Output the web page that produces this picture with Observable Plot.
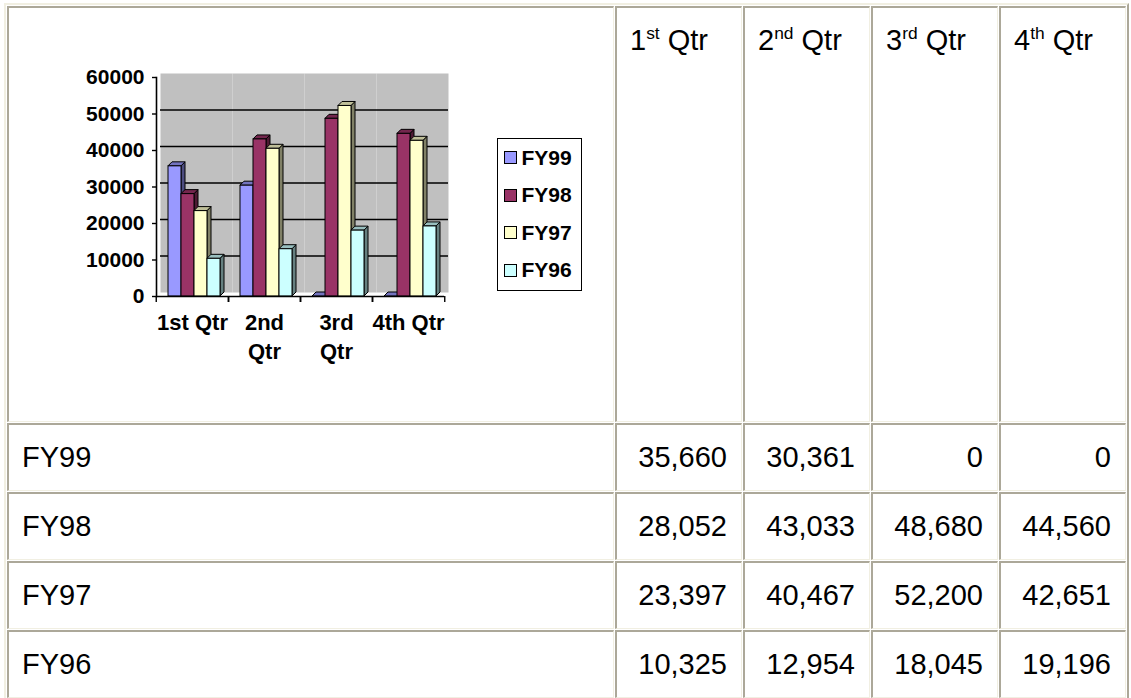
<!DOCTYPE html>
<html>
<head>
<meta charset="utf-8">
<script src="https://cdn.jsdelivr.net/npm/d3@7"></script>
<script src="https://cdn.jsdelivr.net/npm/@observablehq/plot@0.6"></script>
<style>
  html, body { margin: 0; padding: 0; background: #fff; }
  body { position: relative; width: 1131px; height: 698px; overflow: hidden; font-family: Arial, "Liberation Sans", sans-serif; }
  table { position: absolute; left: 4px; top: 3px; border-collapse: separate; border-spacing: 1px;
          border-style: solid; border-width: 2px; border-color: #F1EFE2 #ACA899 #ACA899 #F1EFE2; table-layout: fixed; }
  td { box-sizing: border-box; border-style: solid; border-width: 2px 1px 1px 2px;
       border-color: #ACA899 #F1EFE2 #F1EFE2 #ACA899; padding: 0 14px 0 13px; font-size: 29px; color: #000; }
  td.head { vertical-align: top; padding-top: 16px; line-height: 1.15; height: 416px; }
  td.row { vertical-align: middle; height: 68px; }
  td.num { text-align: right; }
  sup { font-size: 0.6em; vertical-align: 0.62em; line-height: 0; }
  #chart { position: absolute; left: 60px; top: 40px; }
  #chart svg { overflow: visible; }
  #legend { position: absolute; left: 497px; top: 138px; width: 85px; height: 153px; box-sizing: border-box;
            border: 1.5px solid #000; background: #fff; display: flex; flex-direction: column; }
  .item { height: 37.5px; display: flex; align-items: center; font: bold 21px Arial, "Liberation Sans", sans-serif; }
  .sw { width: 13px; height: 13px; box-sizing: border-box; border: 1px solid #000; margin: 0 5px 0 5.5px; }
</style>
</head>
<body>
<table id="tbl"></table>
<div id="chart"></div>
<div id="legend"></div>
<script>
// ---- data ----
const categories = ["1st Qtr", "2nd Qtr", "3rd Qtr", "4th Qtr"];
const chartTickLabels = ["1st Qtr", "2nd\nQtr", "3rd\nQtr", "4th Qtr"];
const series = ["FY99", "FY98", "FY97", "FY96"];
const fy99 = [35660, 30361, 0, 0];
const fy98 = [28052, 43033, 48680, 44560];
const fy97 = [23397, 40467, 52200, 42651];
const fy96 = [10325, 12954, 18045, 19196];
const yTicks = [0, 10000, 20000, 30000, 40000, 50000, 60000];
const frontColors = ["#9999FF", "#993366", "#FFFFCC", "#CCFFFF"];
const topColors   = ["#7373BF", "#73264D", "#BFBF99", "#99BFBF"];
const sideColors  = ["#4D4D80", "#4D1A33", "#808066", "#668080"];

const seriesValues = [fy99, fy98, fy97, fy96];
const rows = series.flatMap((s, si) => categories.map((q, qi) => ({quarter: q, series: s, si, value: seriesValues[si][qi]})));

// ---- table ----
const tbl = document.getElementById("tbl");
const fmt = d3.format(",");
let html = '<colgroup><col style="width:607px">' + categories.map(() => '<col style="width:127px">').join("") + '</colgroup>';
html += '<tr><td class="head"></td>' + categories.map(c => {
  const m = c.match(/^(\d+)(\D+?) (.*)$/);
  return `<td class="head">${m[1]}<sup>${m[2]}</sup> ${m[3]}</td>`;
}).join("") + '</tr>';
series.forEach((s, si) => {
  html += `<tr><td class="row">${s}</td>` + seriesValues[si].map(v => `<td class="row num">${fmt(v)}</td>`).join("") + '</tr>';
});
tbl.innerHTML = html;

// ---- chart ----
const W = 420, H = 340, ML = 95, MR = 35, MT = 37, MB = 84, D = 4;
const bw = (W - ML - MR) / categories.length;
const barOpts = (fillArr, desc) => ({
  fx: "quarter", x: "series", y: "value",
  fill: d => fillArr[d.si], stroke: "#000", strokeWidth: 1,
  ariaDescription: desc
});

const chart = Plot.plot({
  width: W, height: H,
  marginLeft: ML, marginRight: MR, marginTop: MT, marginBottom: MB,
  style: {fontFamily: "Arial, 'Liberation Sans', sans-serif", fontSize: "21px", fontWeight: "bold", background: "transparent", color: "#000", overflow: "visible"},
  fx: {domain: categories, padding: 0, label: null},
  x: {domain: series, paddingInner: 0, paddingOuter: 0.736, align: 0.6, axis: null},
  y: {domain: [0, 60000], label: null},
  color: {type: "identity"},
  marks: [
    Plot.frame({fill: "#C0C0C0", stroke: null, dx: D, dy: -D}),
    Plot.gridY(yTicks.slice(1, -1), {stroke: "#000", strokeOpacity: 1, strokeWidth: 1.3, dx: D, dy: -D}),
    Plot.barY(rows, barOpts(sideColors, "side")),
    Plot.barY(rows, barOpts(topColors, "top")),
    Plot.barY(rows, barOpts(frontColors, "front")),
    Plot.ruleY([0], {stroke: "#000", strokeWidth: 1.6}),
    Plot.frame({anchor: "left", facetAnchor: "left", stroke: "#000", strokeWidth: 1.6}),
    Plot.axisY(yTicks, {tickSize: 4, tickPadding: 8, tickFormat: "d", label: null, fontSize: 21, fontWeight: "bold", stroke: "#000", strokeWidth: 1.4}),
    Plot.axisFx({anchor: "bottom", tickSize: 0, tickPadding: 12, tickFormat: q => chartTickLabels[categories.indexOf(q)], lineHeight: 1.35, label: null, fontSize: 22, fontWeight: "bold"}),
    Plot.axisFx({anchor: "bottom", tickSize: 6, tickFormat: () => "", dx: -bw / 2, label: null, stroke: "#000", strokeWidth: 1.4}),
    Plot.axisFx(categories.slice(-1), {anchor: "bottom", tickSize: 6, tickFormat: () => "", dx: bw / 2, label: null, stroke: "#000", strokeWidth: 1.4})
  ]
});

// turn side/top rects into 3-D parallelograms
const NS = "http://www.w3.org/2000/svg";
function toPolys(groups, ptsFn) {
  groups.forEach(g => g.querySelectorAll("rect").forEach(r => {
    const x = +r.getAttribute("x"), y = +r.getAttribute("y"), w = +r.getAttribute("width"), h = +r.getAttribute("height");
    const p = document.createElementNS(NS, "polygon");
    for (const a of Array.from(r.attributes)) if (!["x", "y", "width", "height"].includes(a.name)) p.setAttribute(a.name, a.value);
    p.setAttribute("points", ptsFn(x, y, w, h).map(q => q.join(",")).join(" "));
    r.replaceWith(p);
  }));
}
let sideGroups = Array.from(chart.querySelectorAll('g[aria-description="side"]'));
let topGroups = Array.from(chart.querySelectorAll('g[aria-description="top"]'));
if (!sideGroups.length) {
  const bars = Array.from(chart.querySelectorAll('g[aria-label="bar"]'));
  const n = bars.length / 3;
  sideGroups = bars.slice(0, n); topGroups = bars.slice(n, 2 * n);
}
toPolys(sideGroups, (x, y, w, h) => [[x + w, y], [x + w + D, y - D], [x + w + D, y + h - D], [x + w, y + h]]);
toPolys(topGroups, (x, y, w, h) => [[x, y], [x + w, y], [x + w + D, y - D], [x + D, y - D]]);
document.getElementById("chart").appendChild(chart);

// ---- legend ----
const legend = document.getElementById("legend");
series.forEach((s, i) => {
  const it = document.createElement("div");
  it.className = "item";
  it.innerHTML = `<span class="sw" style="background:${frontColors[i]}"></span><span>${s}</span>`;
  legend.appendChild(it);
});
</script>
</body>
</html>
